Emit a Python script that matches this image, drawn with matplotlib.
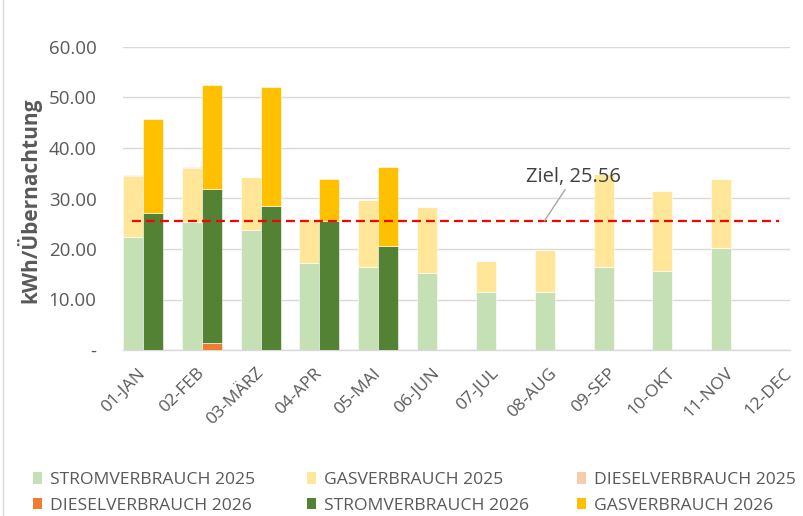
import numpy as np
import matplotlib
matplotlib.use('Agg')
import matplotlib.pyplot as plt
import matplotlib.transforms as mtransforms
from matplotlib.patches import Patch

# ─── Data (kWh per overnight stay) ───────────────────────────────────────────
MONTHS = ['01-JAN', '02-FEB', '03-MÄRZ', '04-APR', '05-MAI', '06-JUN',
          '07-JUL', '08-AUG', '09-SEP', '10-OKT', '11-NOV', '12-DEC']

strom_2025  = [22.4, 25.3, 23.8, 17.3, 16.5, 15.2, 11.5, 11.5, 16.4, 15.7, 20.2, 0.0]
gas_2025    = [12.05, 10.75, 10.4, 8.6, 13.3, 13.2, 6.1, 8.4, 18.5, 15.8, 13.7, 0.0]
diesel_2025 = [0.15, 0.25, 0.0, 0.0, 0.0, 0.0, 0.0, 0.0, 0.0, 0.0, 0.0, 0.0]

diesel_2026 = [0.0, 1.3, 0.0, 0.0, 0.0]
strom_2026  = [27.1, 30.5, 28.6, 25.6, 20.5]
gas_2026    = [18.7, 20.7, 23.4, 8.3, 15.7]

ZIEL = 25.56
ziel_line = [ZIEL] * len(MONTHS)

# ─── Style ───────────────────────────────────────────────────────────────────
FONT = ['Open Sans', 'DejaVu Sans']
TXT = '#595959'
GRID = '#d9d9d9'
FS = 12.6
plt.rcParams.update({'font.family': FONT, 'font.size': FS})

C = {
    'strom25': '#C5E0B4', 'gas25': '#FFE699', 'diesel25': '#F8CBAD',
    'diesel26': '#ED7D31', 'strom26': '#548235', 'gas26': '#FFC000',
}

fig = plt.figure(figsize=(8.04, 5.16), dpi=100)
ax = fig.add_axes([123/804, 1 - 350/516, 667/804, 303/516])

x = np.arange(len(MONTHS))
w = 0.34
kw = dict(width=w, edgecolor='white', linewidth=0.4, zorder=3)

# 2025 stack (left bar of each month)
s25 = np.array(strom_2025)
g25 = np.array(gas_2025)
x25 = x - w / 2
ax.bar(x25, s25, color=C['strom25'], **kw)
ax.bar(x25, g25, bottom=s25, color=C['gas25'], **kw)
ax.bar(x25, diesel_2025, bottom=s25 + g25, color=C['diesel25'], **kw)

# 2026 stack (right bar)
n26 = len(strom_2026)
x26 = x[:n26] + w / 2
d26 = np.array(diesel_2026)
s26 = np.array(strom_2026)
ax.bar(x26, d26, color=C['diesel26'], **kw)
ax.bar(x26, s26, bottom=d26, color=C['strom26'], **kw)
ax.bar(x26, gas_2026, bottom=d26 + s26, color=C['gas26'], **kw)

# target line
ax.plot(x - 0.187, ziel_line, color='#FF0000', lw=1.6, dashes=(4, 2.3), zorder=4)
ax.annotate(f'Ziel, {ZIEL:.2f}', xy=(6.825, ZIEL), xytext=(7.32, 34.3),
            ha='center', va='center', fontsize=14.5, color='#404040',
            arrowprops=dict(arrowstyle='-', color='#a6a6a6', lw=1,
                            shrinkA=0, shrinkB=0), zorder=5)

# axes
ax.set_xlim(-w, 10.985)
ax.set_ylim(0, 60)
ax.set_yticks(range(0, 61, 10))
ax.set_yticklabels(['-'] + [f'{v:.2f}' for v in range(10, 61, 10)])
ax.set_xticks(x)
ax.set_xticklabels(MONTHS, rotation=45, ha='right', va='center',
                   rotation_mode='anchor')
shift = mtransforms.ScaledTranslation(-4/100, -2/100, fig.dpi_scale_trans)
for lab in ax.get_xticklabels():
    lab.set_transform(lab.get_transform() + shift)
ax.tick_params(axis='y', length=0, pad=19, colors=TXT, labelsize=13.5)
ax.tick_params(axis='x', length=0, pad=15, colors=TXT, labelsize=FS)
ax.grid(axis='y', color=GRID, lw=1, zorder=0)
for sp in ['top', 'right', 'left']:
    ax.spines[sp].set_visible(False)
ax.spines['bottom'].set_color(GRID)
ax.spines['bottom'].set_linewidth(1)

fig.text(29/804, 1 - 200/516, 'kWh/Übernachtung', rotation=90, ha='center',
         va='center', fontsize=15, fontweight='bold', color=TXT)

# chart border (left edge visible)
fig.add_artist(plt.Line2D([3/804, 3/804], [0, 1], color=GRID, lw=1))

# legend: three columns, two rows
cols = [
    (33, [('STROMVERBRAUCH 2025', 'strom25'), ('DIESELVERBRAUCH 2026', 'diesel26')]),
    (307, [('GASVERBRAUCH 2025', 'gas25'), ('STROMVERBRAUCH 2026', 'strom26')]),
    (577, [('DIESELVERBRAUCH 2025', 'diesel25'), ('GASVERBRAUCH 2026', 'gas26')]),
]
for xpx, items in cols:
    handles = [Patch(facecolor=C[k], edgecolor='none') for _, k in items]
    labels = [t for t, _ in items]
    fig.legend(handles, labels, loc='upper left',
               bbox_to_anchor=(xpx/804, 1 - 472/516), frameon=False,
               fontsize=FS, labelcolor=TXT, handlelength=0.5,
               handleheight=0.65, handletextpad=0.45, labelspacing=0.55,
               borderpad=0, borderaxespad=0)

fig.savefig('out.png', dpi=100)
